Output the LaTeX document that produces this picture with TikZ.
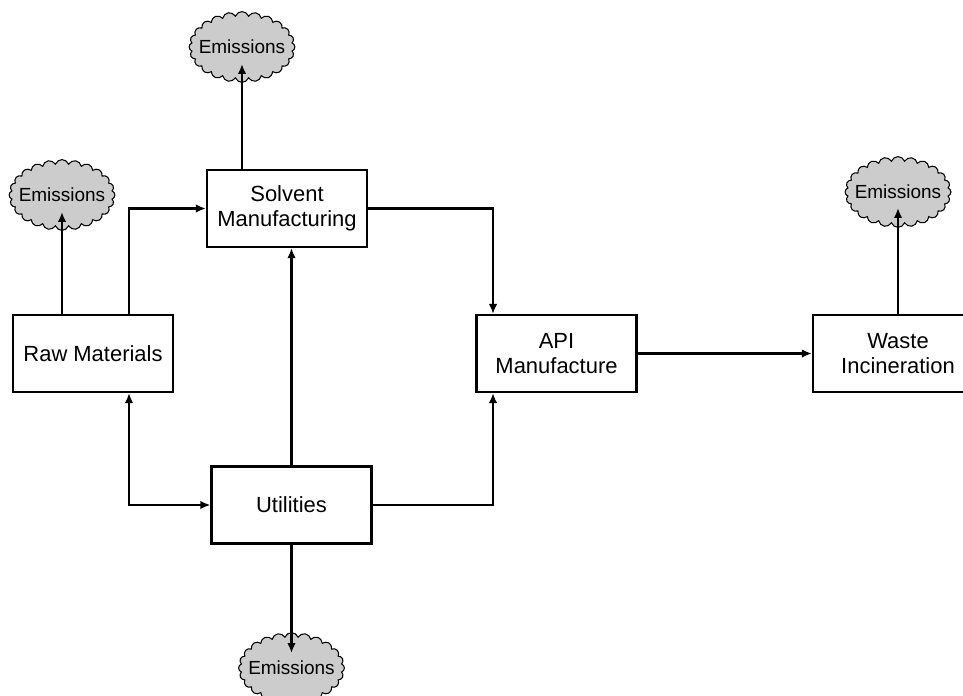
\documentclass[tikz,border=0pt]{standalone}
\usepackage{fontspec}
\setmainfont{Liberation Sans}
\usetikzlibrary{calc}
\usetikzlibrary{shapes.symbols}
\usetikzlibrary{arrows.meta}

\begin{document}
\begin{tikzpicture}[x=0.02cm,y=-0.02cm,
    box/.style={draw,line width=1.2pt,minimum width=3.2cm,minimum height=1.54cm,align=center,inner sep=2pt,font=\fontsize{12.5}{14.5}\selectfont},
    emis/.style={cloud,cloud puffs=24,cloud puff arc=140,cloud ignores aspect,draw,fill=gray!40,line width=0.6pt,inner xsep=-0.15cm,inner ysep=0.3cm,font=\fontsize{10.8}{12}\selectfont},
    arr/.style={line width=1.2pt,-{Latex[length=0.2cm,width=0.17cm]}},
    dbl/.style={line width=1.2pt,{Latex[length=0.2cm,width=0.17cm]}-{Latex[length=0.2cm,width=0.17cm]}}]
      \useasboundingbox (0,0) rectangle (963,696);

      % process boxes
      \node[box] (raw) at (93,353.5) {Raw Materials};
      \node[box] (solv) at (287,208.5) {Solvent\\Manufacturing};
      \node[box] (api) at (556.5,353.5) {API\\Manufacture};
      \node[box,minimum width=3.4cm] (waste) at (898,353.5) {Waste\\Incineration};
      \node[box] (util) at (291.5,505) {Utilities};

      % emissions
      \node[emis] (emisT) at (242,47) {Emissions};
      \node[emis] (emisL) at (62,195) {Emissions};
      \node[emis] (emisR) at (898,192) {Emissions};
      \node[emis] (emisB) at (291.5,668) {Emissions};

      \draw[arr] (raw.north -| emisL) -- ([yshift=-0.34cm]emisL.center);
      \draw[arr] ([xshift=0.72cm]raw.north) |- (solv.west);
      \draw[arr] (solv.north -| emisT) -- ([yshift=-0.34cm]emisT.center);
      \draw[arr] (solv.east) -| ([xshift=-1.27cm]api.north);
      \draw[arr] (util.north) -- (util.north |- solv.south);
      \draw[dbl] ([xshift=0.72cm]raw.south) |- (util.west);
      \draw[arr] (util.east) -| ([xshift=-1.27cm]api.south);
      \draw[arr] (util.south) -- ([yshift=0.3cm]emisB.center);
      \draw[arr] (api.east) -- (waste.west);
      \draw[arr] (waste.north) -- ([yshift=-0.32cm]emisR.center);
\end{tikzpicture}
\end{document}
